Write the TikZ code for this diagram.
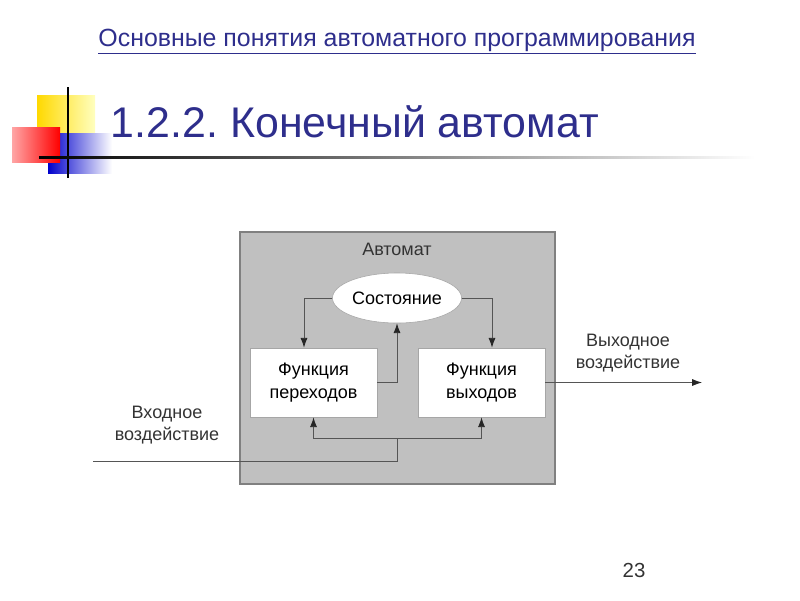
\documentclass[tikz,border=0pt]{standalone}
\usepackage{fontspec}
\setmainfont{Liberation Sans}
\usetikzlibrary{arrows.meta,shapes.geometric,calc}
\definecolor{navy}{RGB}{46,46,140}
\definecolor{boxgray}{RGB}{192,192,192}
\definecolor{wire}{RGB}{85,85,85}
\frenchspacing

\begin{document}
\begin{tikzpicture}[x=0.025cm,y=-0.025cm,
    wire/.style={draw=wire, line width=0.6pt},
    arr/.style={wire, -{Latex[length=7pt,width=5pt,color=black!85]}},
    fnbox/.style={draw=black!35, fill=white, minimum width=3.175cm, minimum height=1.725cm,
      align=center, font=\fontsize{12.8}{16.5}\selectfont},
    lbl/.style={align=center, text=black!80, font=\fontsize{12.8}{16}\selectfont}]
  \useasboundingbox (0,0) rectangle (800,600);
  % \draw[help lines] (0,0) grid[step=50] (800,600);

  % corner squares
  \shade[left color=yellow!70!orange, right color=yellow!25] (37,95) rectangle (95,150);
  \shade[left color=blue!80!black, right color=white] (48,133) rectangle (112,173);
  \shade[left color=red!35, right color=red] (12,127) rectangle (60,162);
  \draw[line width=1.3pt] (68,87) -- (68,178);
  \shade[left color=black, right color=white] (39,156) rectangle (755,158.5);

  % header and title
  \node[text=navy, font=\fontsize{17.7}{20}\selectfont, anchor=base] (header) at (397,46)
    {\underline{Основные понятия автоматного программирования}};
  \node[text=navy, font=\fontsize{30.5}{32}\selectfont, anchor=base west] (title) at (106,137)
    {1.2.2. Конечный автомат};

  % automaton
  \node[draw=black!50, fill=boxgray, line width=0.8pt, minimum width=7.875cm, minimum height=6.3cm]
    (automat) at (397.5,358) {};
  \node[lbl] (autlbl) at (397,249) {Автомат};
  \node[ellipse, draw=black!35, fill=white, inner sep=0pt, minimum width=3.225cm, minimum height=1.25cm,
    font=\fontsize{12.8}{16}\selectfont] (state) at (397,298) {Состояние};
  \node[fnbox] (transfn) at (313.5,382.5) {Функция\\переходов};
  \node[fnbox] (outfn) at (481.5,382.5) {Функция\\выходов};

  \node[lbl] (inlbl) at (167,425) {Входное\\воздействие};
  \node[lbl] (outlbl) at (628,353) {Выходное\\воздействие};
  \coordinate (inp) at (93,461);
  \coordinate (bus) at (397,438);
  \coordinate (outp) at (702,382.5);

  \draw[arr] (state.west) -| ($(transfn.north)+(-9.5,0)$);
  \draw[arr] (state.east) -| ($(outfn.north)+(10.5,0)$);
  \draw[arr] (transfn.east) -| (state.south);
  \draw[wire] (inp) -| (bus);
  \draw[arr] (bus) -| (transfn.south);
  \draw[arr] (bus) -| (outfn.south);
  \draw[arr] (outfn.east) -- (outp);

  \node[text=black!80, font=\fontsize{14.5}{16}\selectfont] (pagenum) at (634,570) {23};
\end{tikzpicture}
\end{document}
